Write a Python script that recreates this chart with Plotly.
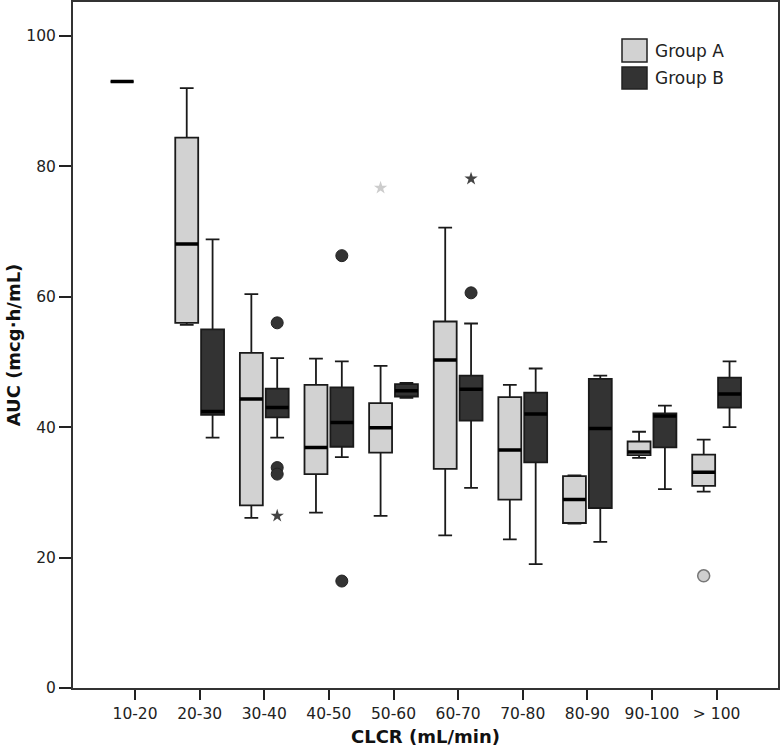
import plotly.graph_objects as go

# ---- data ----
categories = ["10-20", "20-30", "30-40", "40-50", "50-60", "60-70", "70-80", "80-90", "90-100", "> 100"]

# Group A (all categories)
a_cats = categories
a_lower = [93.0, 55.7, 26.1, 26.9, 26.4, 23.4, 22.8, 25.2, 35.3, 30.1]
a_q1 = [93.0, 56.0, 28.0, 32.8, 36.1, 33.6, 28.9, 25.3, 35.7, 31.0]
a_median = [93.0, 68.1, 44.3, 36.9, 39.9, 50.3, 36.5, 28.9, 36.2, 33.1]
a_q3 = [93.0, 84.4, 51.4, 46.5, 43.7, 56.2, 44.6, 32.5, 37.8, 35.8]
a_upper = [93.0, 92.0, 60.4, 50.5, 49.4, 70.6, 46.5, 32.6, 39.3, 38.1]

# Group B (no 10-20)
b_cats = categories[1:]
b_lower = [38.4, 38.4, 35.4, 44.5, 30.7, 19.0, 22.4, 30.5, 40.0]
b_q1 = [41.9, 41.5, 37.0, 44.7, 41.0, 34.6, 27.6, 36.9, 43.0]
b_median = [42.4, 43.0, 40.7, 45.6, 45.8, 42.0, 39.8, 41.7, 45.1]
b_q3 = [55.0, 45.9, 46.1, 46.6, 47.9, 45.3, 47.4, 42.1, 47.6]
b_upper = [68.8, 50.6, 50.1, 46.8, 55.9, 49.0, 47.9, 43.3, 50.1]

# outliers
a_circle_cats = ["> 100"]
a_circle_vals = [17.2]
a_star_cats = ["50-60"]
a_star_vals = [76.7]
b_circle_cats = ["30-40", "30-40", "30-40", "40-50", "40-50", "60-70"]
b_circle_vals = [56.0, 33.8, 32.8, 66.3, 16.4, 60.6]
b_star_cats = ["30-40", "60-70"]
b_star_vals = [26.4, 78.1]

y_ticks = [0, 20, 40, 60, 80, 100]

# ---- styling ----
COL_A = "#d2d2d2"
COL_B = "#333333"
OFF = 0.2
BOXW = 0.355
FONT = "DejaVu Sans"

idx = {c: i for i, c in enumerate(categories)}

def pos(cats, off):
    return [idx[c] + off for c in cats]

fig = go.Figure()

def add_group(cats, off, lo, q1, med, q3, up, fill, name):
    fig.add_trace(go.Box(
        x=pos(cats, off), q1=q1, median=med, q3=q3,
        lowerfence=lo, upperfence=up,
        width=BOXW, whiskerwidth=0.6, boxpoints=False,
        fillcolor=fill, line=dict(color="#1a1a1a", width=1.8),
        name=name, showlegend=False, hoverinfo="skip",
    ))
    # thick median line (flat box at the median)
    fig.add_trace(go.Box(
        x=pos(cats, off), q1=med, median=med, q3=med,
        lowerfence=med, upperfence=med,
        width=BOXW, whiskerwidth=0, boxpoints=False,
        fillcolor="rgba(0,0,0,0)", line=dict(color="#000000", width=3.5),
        name=name + " median", showlegend=False, hoverinfo="skip",
    ))

add_group(a_cats, -OFF, a_lower, a_q1, a_median, a_q3, a_upper, COL_A, "Group A")
add_group(b_cats, OFF, b_lower, b_q1, b_median, b_q3, b_upper, COL_B, "Group B")

fig.add_trace(go.Scatter(
    x=pos(a_circle_cats, -OFF), y=a_circle_vals, mode="markers",
    marker=dict(symbol="circle", size=12, color="#cfcfcf", line=dict(color="#777777", width=1.5)),
    showlegend=False, hoverinfo="skip",
))
fig.add_trace(go.Scatter(
    x=pos(a_star_cats, -OFF), y=a_star_vals, mode="markers",
    marker=dict(symbol="star", size=10, color="#cccccc", line=dict(width=0)),
    showlegend=False, hoverinfo="skip",
))
fig.add_trace(go.Scatter(
    x=pos(b_circle_cats, OFF), y=b_circle_vals, mode="markers",
    marker=dict(symbol="circle", size=12, color="#333333", line=dict(color="#222222", width=1)),
    showlegend=False, hoverinfo="skip",
))
fig.add_trace(go.Scatter(
    x=pos(b_star_cats, OFF), y=b_star_vals, mode="markers",
    marker=dict(symbol="star", size=10, color="#444444", line=dict(width=0)),
    showlegend=False, hoverinfo="skip",
))

# ---- manual legend (paper coords derived from plot area) ----
W, H = 780, 750
ML, MR, MT, MB = 73, 2, 2, 62
pw, ph = W - ML - MR, H - MT - MB

def px(x):
    return (x - ML) / pw

def py(y):
    return (H - MB - y) / ph

legend_items = [("Group A", COL_A, 39, 62), ("Group B", COL_B, 67, 89)]
for label, col, y0, y1 in legend_items:
    fig.add_shape(type="rect", xref="paper", yref="paper",
                  x0=px(622), x1=px(647), y0=py(y1), y1=py(y0),
                  fillcolor=col, line=dict(color="#222222", width=1.5))
    fig.add_annotation(xref="paper", yref="paper", x=px(653), y=py((y0 + y1) / 2),
                       text=label, showarrow=False, xanchor="left", yanchor="middle",
                       font=dict(family=FONT, size=17, color="#222222"))

fig.update_layout(
    width=W, height=H,
    margin=dict(l=ML, r=MR, t=MT, b=MB),
    plot_bgcolor="white", paper_bgcolor="white",
    showlegend=False,
    font=dict(family=FONT, color="#222222"),
    xaxis=dict(
        range=[-0.96, 9.95], tickmode="array",
        tickvals=list(range(len(categories))), ticktext=categories,
        ticks="outside", ticklen=10, tickwidth=2, tickcolor="#222222",
        tickfont=dict(family=FONT, size=15.5, color="#222222"),
        showline=True, linecolor="#333333", linewidth=2, mirror=True,
        showgrid=False, zeroline=False,
        title=dict(text="<b>CLCR (mL/min)</b>", font=dict(family=FONT, size=18, color="#111111"), standoff=9),
        automargin=False,
    ),
    yaxis=dict(
        range=[0, 105.2], tickmode="array", tickvals=y_ticks,
        ticks="outside", ticklen=12, tickwidth=2, tickcolor="#222222",
        tickfont=dict(family=FONT, size=15.5, color="#222222"),
        showline=True, linecolor="#333333", linewidth=2, mirror=True,
        showgrid=False, zeroline=False,
        title=dict(text="<b>AUC (mcg·h/mL)</b>", font=dict(family=FONT, size=18, color="#111111"), standoff=1),
        automargin=False,
    ),
)

fig.write_html(
    "out.html",
    config={"displayModeBar": False},
    post_script="document.body.style.margin='0px';document.body.style.overflow='hidden';",
)
